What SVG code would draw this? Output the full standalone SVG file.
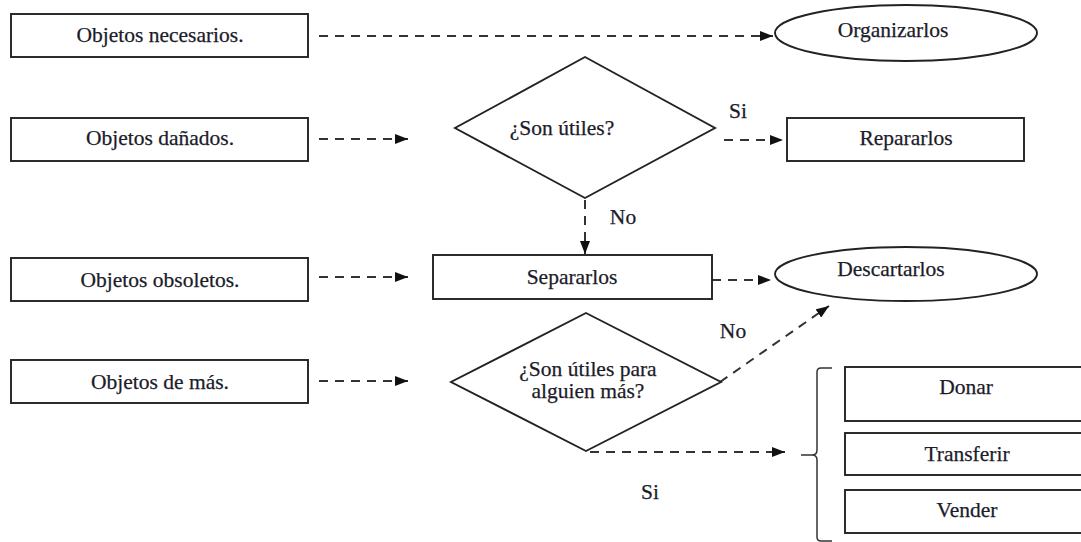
<svg xmlns="http://www.w3.org/2000/svg" width="1081" height="542" viewBox="0 0 1081 542">
<defs>
<style>
.box{fill:#fff;stroke:#222;stroke-width:1.9}
.t{font-family:"Liberation Serif","Times New Roman",serif;font-size:21.5px;fill:#1c1c2a;text-anchor:middle;stroke:#1c1c2a;stroke-width:0.25}
.c{fill:none;stroke:#333;stroke-width:2;stroke-dasharray:9 7}
.br{fill:none;stroke:#333;stroke-width:1.5}
</style>
<marker id="ah" viewBox="0 0 13 10" refX="13" refY="5" markerWidth="13" markerHeight="10" markerUnits="userSpaceOnUse" orient="auto">
<path d="M0,0 L13,5 L0,10 Z" fill="#111"/>
</marker>
</defs>
<rect width="1081" height="542" fill="#fff"/>

<g id="connectors">
<line class="c" x1="319" y1="36" x2="773" y2="36" marker-end="url(#ah)"/>
<line class="c" x1="319" y1="139" x2="408" y2="139" marker-end="url(#ah)"/>
<line class="c" x1="724" y1="140" x2="783" y2="140" marker-end="url(#ah)"/>
<line class="c" x1="585" y1="200" x2="585" y2="254" marker-end="url(#ah)"/>
<line class="c" x1="319" y1="277" x2="408" y2="277" marker-end="url(#ah)"/>
<line class="c" x1="712" y1="280" x2="771" y2="280" marker-end="url(#ah)"/>
<line class="c" x1="319" y1="381" x2="408" y2="381" marker-end="url(#ah)"/>
<line class="c" x1="720" y1="382" x2="829" y2="306" marker-end="url(#ah)"/>
<line class="c" x1="590" y1="452" x2="785" y2="452" marker-end="url(#ah)"/>
<path class="br" d="M832 368 L821 368 Q817 368 817 372 L817 450 Q817 455 812 455 L801 455 M812 455 Q817 455 817 460 L817 537 Q817 541 821 541 L832 541"/>
</g>

<g id="n-necesarios">
<rect class="box" x="11" y="14" width="297" height="43"/>
<text class="t" x="160" y="42">Objetos necesarios.</text>
</g>
<g id="n-danados">
<rect class="box" x="11" y="118" width="297" height="43"/>
<text class="t" x="160" y="145">Objetos dañados.</text>
</g>
<g id="n-obsoletos">
<rect class="box" x="11" y="258" width="297" height="43"/>
<text class="t" x="160" y="287">Objetos obsoletos.</text>
</g>
<g id="n-demas">
<rect class="box" x="11" y="360" width="297" height="43"/>
<text class="t" x="160" y="389">Objetos de más.</text>
</g>

<g id="n-organizarlos">
<ellipse class="box" cx="906" cy="33" rx="131" ry="28"/>
<text class="t" x="893" y="37">Organizarlos</text>
</g>
<g id="n-sonutiles">
<polygon class="box" points="585,57 715,128 585,198 455,128"/>
<text class="t" x="562" y="135">¿Son útiles?</text>
</g>
<g id="n-repararlos">
<rect class="box" x="787" y="118" width="237" height="43"/>
<text class="t" x="906" y="145">Repararlos</text>
</g>
<g id="n-separarlos">
<rect class="box" x="433" y="255" width="279" height="44"/>
<text class="t" x="572" y="284">Separarlos</text>
</g>
<g id="n-descartarlos">
<ellipse class="box" cx="906" cy="274" rx="131" ry="27"/>
<text class="t" x="891" y="276">Descartarlos</text>
</g>
<g id="n-utilesalguien">
<polygon class="box" points="586,313 721,382 586,451 451,382"/>
<text class="t" x="588" y="376">¿Son útiles para</text>
<text class="t" x="588" y="398">alguien más?</text>
</g>
<g id="n-donar">
<rect class="box" x="845" y="367" width="250" height="54"/>
<text class="t" x="966" y="394">Donar</text>
</g>
<g id="n-transferir">
<rect class="box" x="845" y="433" width="250" height="42"/>
<text class="t" x="967" y="461">Transferir</text>
</g>
<g id="n-vender">
<rect class="box" x="845" y="490" width="250" height="43"/>
<text class="t" x="967" y="517">Vender</text>
</g>

<g id="labels">
<text class="t" x="738" y="118">Si</text>
<text class="t" x="623" y="224">No</text>
<text class="t" x="733" y="338">No</text>
<text class="t" x="650" y="499">Si</text>
</g>
</svg>
